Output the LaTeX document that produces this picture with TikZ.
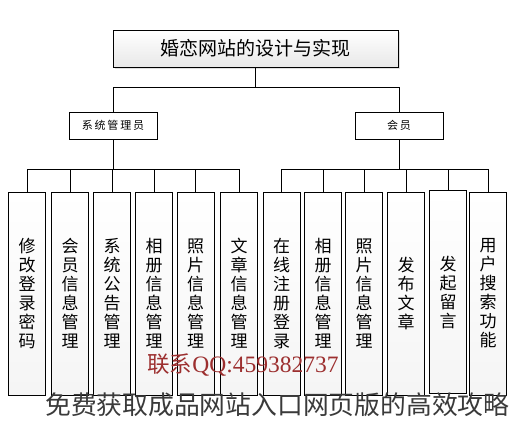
\documentclass[tikz,border=0pt]{standalone}
\usepackage{fontspec}
\newfontfamily\cjk{Noto Sans CJK SC}
\newfontfamily\lserif{Liberation Serif}
\usetikzlibrary{shadows}
\definecolor{qqred}{HTML}{9C2F2F}
\definecolor{capgray}{HTML}{3A3A3A}
\tikzset{
  conn/.style={line width=0.8pt, draw=black},
  titlebox/.style={draw=black, line width=0.8pt, top color=white, bottom color=gray!18,
    minimum width=285pt, minimum height=37pt, inner sep=0pt,
    font=\cjk\fontsize{19}{21}\selectfont,
    drop shadow={opacity=0.25, shadow xshift=2pt, shadow yshift=-2pt}},
  midbox/.style={draw=black, line width=0.8pt, fill=white,
    minimum width=88pt, minimum height=27pt, inner sep=0pt,
    font=\cjk\fontsize{11}{13}\selectfont},
  leafbox/.style={draw=black, line width=0.7pt, top color=white, bottom color=gray!8,
    minimum width=37pt, minimum height=203pt, inner sep=0pt, align=center,
    font=\cjk\fontsize{17}{19}\selectfont},
}
\begin{document}
\begin{tikzpicture}[x=1pt,y=-1pt]
\useasboundingbox[fill=white] (0,0) rectangle (512,421);
\node[titlebox] (title) at (255.5,48.5) {婚恋网站的设计与实现};
\node[midbox] (sys) at (113,125.5) {系\,统\,管\,理\,员};
\node[midbox] (mem) at (399,125.5) {会\,员};

\node[leafbox] (a1) at (27,293.5) {修\\改\\登\\录\\密\\码};
\node[leafbox] (a2) at (70,293.5) {会\\员\\信\\息\\管\\理};
\node[leafbox] (a3) at (112,293.5) {系\\统\\公\\告\\管\\理};
\node[leafbox] (a4) at (154,293.5) {相\\册\\信\\息\\管\\理};
\node[leafbox] (a5) at (195.5,293.5) {照\\片\\信\\息\\管\\理};
\node[leafbox] (a6) at (239,293.5) {文\\章\\信\\息\\管\\理};

\node[leafbox] (b1) at (281.5,293.5) {在\\线\\注\\册\\登\\录};
\node[leafbox] (b2) at (323,293.5) {相\\册\\信\\息\\管\\理};
\node[leafbox] (b3) at (364,293.5) {照\\片\\信\\息\\管\\理};
\node[leafbox] (b4) at (406,293.5) {发\\布\\文\\章};
\node[leafbox] (b5) at (448,292) {发\\起\\留\\言};
\node[leafbox] (b6) at (488,293.5) {用\\户\\搜\\索\\功\\能};

\draw[conn] (title.south) -- ++(0,20) -| (sys.north);
\draw[conn] (title.south) -- ++(0,20) -| (mem.north);
\foreach \n in {a1,a2,a3,a4,a5,a6}
  \draw[conn] (sys.south) -- ++(0,30) -| (\n.north);
\foreach \n in {b1,b2,b3,b4,b5,b6}
  \draw[conn] (mem.south) -- ++(0,30) -| (\n.north);

\node[text=qqred, inner sep=0pt] (qq) at (243,365)
  {{\cjk\fontsize{22.5}{24}\selectfont 联系}{\lserif\fontsize{23.5}{25}\selectfont QQ:459382737}};
\node[text=capgray, inner sep=0pt, anchor=west] (cap) at (45,405)
  {\cjk\fontsize{25.8}{28}\selectfont 免费获取成品网站入口网页版的高效攻略};
\end{tikzpicture}
\end{document}
